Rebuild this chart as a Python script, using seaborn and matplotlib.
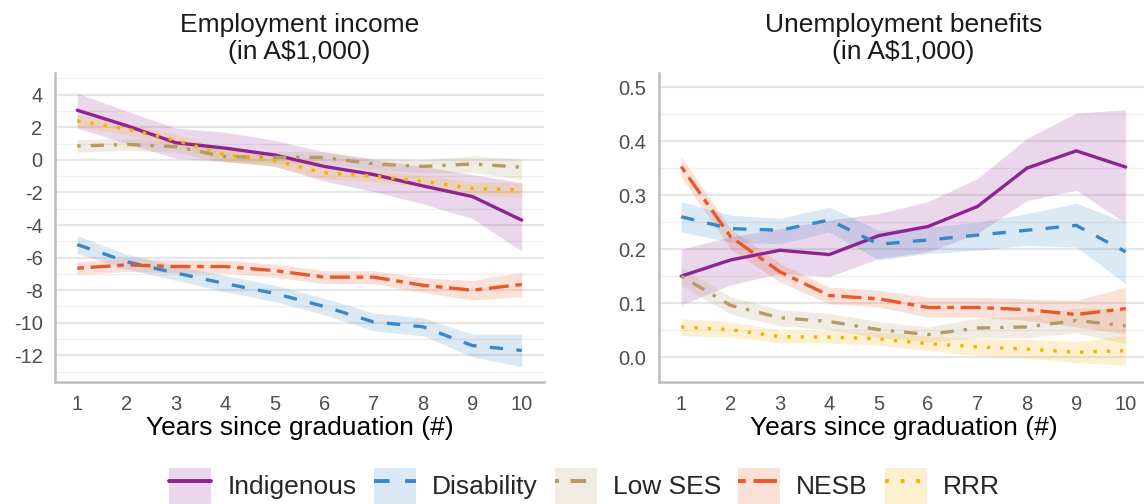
import numpy as np
import pandas as pd
import matplotlib
matplotlib.use("Agg")
import matplotlib.pyplot as plt
from matplotlib.patches import Patch
from matplotlib.lines import Line2D
from matplotlib.ticker import MultipleLocator, FormatStrFormatter
import seaborn as sns

## Data
years = [1, 2, 3, 4, 5, 6, 7, 8, 9, 10]
groups = ["Indigenous", "Disability", "Low SES", "NESB", "RRR"]

# Employment income (A$1,000): estimate, lower, upper
inc_indigenous = [3.05, 2.1, 1.05, 0.72, 0.3, -0.4, -0.9, -1.6, -2.25, -3.7]
inc_indigenous_lo = [1.95, 1.0, 0.1, -0.1, -0.4, -1.3, -1.95, -2.7, -3.6, -5.6]
inc_indigenous_hi = [4.1, 3.0, 1.95, 1.7, 1.2, 0.5, 0.0, -0.4, -0.9, -1.4]
inc_disability = [-5.2, -6.25, -6.95, -7.6, -8.2, -9.0, -9.95, -10.25, -11.4, -11.7]
inc_disability_lo = [-5.75, -6.7, -7.4, -8.1, -8.7, -9.5, -10.5, -10.8, -12.1, -12.7]
inc_disability_hi = [-4.65, -5.8, -6.5, -7.1, -7.7, -8.5, -9.4, -9.7, -10.7, -10.7]
inc_lowses = [0.85, 0.95, 0.8, 0.2, 0.15, 0.15, -0.25, -0.4, -0.25, -0.45]
inc_lowses_lo = [0.45, 0.6, 0.45, -0.15, -0.2, -0.2, -0.6, -0.8, -0.75, -1.2]
inc_lowses_hi = [1.25, 1.3, 1.15, 0.55, 0.5, 0.5, 0.1, 0.0, 0.25, 0.05]
inc_nesb = [-6.65, -6.45, -6.55, -6.55, -6.8, -7.2, -7.2, -7.7, -8.0, -7.65]
inc_nesb_lo = [-7.05, -6.85, -6.95, -6.95, -7.2, -7.6, -7.6, -8.15, -8.6, -8.4]
inc_nesb_hi = [-6.25, -6.05, -6.15, -6.15, -6.4, -6.8, -6.8, -7.25, -7.4, -6.9]
inc_rrr = [2.4, 1.9, 1.2, 0.3, -0.05, -0.8, -1.0, -1.3, -1.75, -1.85]
inc_rrr_lo = [2.05, 1.55, 0.85, -0.05, -0.4, -1.15, -1.35, -1.65, -2.15, -2.3]
inc_rrr_hi = [2.75, 2.25, 1.55, 0.65, 0.3, -0.45, -0.65, -0.95, -1.35, -1.4]

# Unemployment benefits (A$1,000): estimate, lower, upper
ben_indigenous = [0.15, 0.18, 0.198, 0.19, 0.225, 0.242, 0.279, 0.35, 0.382, 0.352]
ben_indigenous_lo = [0.097, 0.134, 0.155, 0.149, 0.183, 0.195, 0.229, 0.29, 0.309, 0.248]
ben_indigenous_hi = [0.2, 0.223, 0.238, 0.254, 0.266, 0.288, 0.331, 0.405, 0.452, 0.458]
ben_disability = [0.26, 0.238, 0.235, 0.254, 0.209, 0.217, 0.226, 0.235, 0.244, 0.195]
ben_disability_lo = [0.232, 0.213, 0.21, 0.232, 0.18, 0.192, 0.198, 0.207, 0.204, 0.136]
ben_disability_hi = [0.288, 0.263, 0.257, 0.278, 0.235, 0.241, 0.25, 0.266, 0.285, 0.25]
ben_lowses = [0.15, 0.096, 0.073, 0.066, 0.051, 0.042, 0.054, 0.056, 0.068, 0.058]
ben_lowses_lo = [0.133, 0.08, 0.058, 0.051, 0.036, 0.028, 0.036, 0.036, 0.045, 0.025]
ben_lowses_hi = [0.167, 0.112, 0.088, 0.081, 0.066, 0.056, 0.072, 0.076, 0.091, 0.09]
ben_nesb = [0.353, 0.223, 0.158, 0.114, 0.108, 0.092, 0.092, 0.088, 0.079, 0.09]
ben_nesb_lo = [0.334, 0.2, 0.139, 0.099, 0.093, 0.074, 0.074, 0.068, 0.056, 0.043]
ben_nesb_hi = [0.371, 0.238, 0.173, 0.13, 0.124, 0.111, 0.111, 0.108, 0.105, 0.13]
ben_rrr = [0.056, 0.051, 0.038, 0.037, 0.034, 0.025, 0.019, 0.015, 0.009, 0.012]
ben_rrr_lo = [0.04, 0.037, 0.027, 0.026, 0.022, 0.012, 0.003, -0.002, -0.01, -0.015]
ben_rrr_hi = [0.071, 0.066, 0.05, 0.049, 0.046, 0.039, 0.035, 0.033, 0.029, 0.04]

colors = ["#8E2491", "#3A87C8", "#B49A67", "#E9582A", "#F5B000"]
dashes = [(None, None), (4, 4), (1, 3, 4, 3), (2, 2, 6, 2), (1, 3)]


def long_frame(est, lo, hi):
    rows = []
    for g, e, l, h in zip(groups, est, lo, hi):
        for y, a, b, c in zip(years, e, l, h):
            rows.append({"year": y, "group": g, "value": a, "lower": b, "upper": c})
    return pd.DataFrame(rows)


income = long_frame(
    [inc_indigenous, inc_disability, inc_lowses, inc_nesb, inc_rrr],
    [inc_indigenous_lo, inc_disability_lo, inc_lowses_lo, inc_nesb_lo, inc_rrr_lo],
    [inc_indigenous_hi, inc_disability_hi, inc_lowses_hi, inc_nesb_hi, inc_rrr_hi],
)
benefits = long_frame(
    [ben_indigenous, ben_disability, ben_lowses, ben_nesb, ben_rrr],
    [ben_indigenous_lo, ben_disability_lo, ben_lowses_lo, ben_nesb_lo, ben_rrr_lo],
    [ben_indigenous_hi, ben_disability_hi, ben_lowses_hi, ben_nesb_hi, ben_rrr_hi],
)

## Style
sns.set_theme(style="white")
plt.rcParams["font.family"] = ["Liberation Sans", "DejaVu Sans"]
plt.rcParams["axes.unicode_minus"] = False

palette = dict(zip(groups, colors))
dash_map = {g: ("" if d[0] is None else d) for g, d in zip(groups, dashes)}

fig = plt.figure(figsize=(11.44, 5.04), dpi=100)
ax1 = fig.add_axes([0.0481, 0.242, 0.4274, 0.613])
ax2 = fig.add_axes([0.576, 0.242, 0.4274, 0.613])


def draw(ax, df, title, ylim, major, minor):
    for g in groups:
        sub = df[df["group"] == g]
        ax.fill_between(sub["year"], sub["lower"], sub["upper"],
                        color=palette[g], alpha=0.18, linewidth=0)
    sns.lineplot(data=df, x="year", y="value", hue="group", style="group",
                 hue_order=groups, style_order=groups, palette=palette,
                 dashes=dash_map, linewidth=2.4, ax=ax, legend=False)
    ax.set_xlim(0.55, 10.45)
    ax.set_ylim(*ylim)
    ax.set_xticks(years)
    ax.yaxis.set_major_locator(MultipleLocator(major))
    ax.yaxis.set_minor_locator(MultipleLocator(minor))
    ax.grid(axis="y", which="major", color="#E6E6E6", linewidth=1.6)
    ax.grid(axis="y", which="minor", color="#EFEFEF", linewidth=0.9)
    ax.grid(axis="x", visible=False)
    ax.set_axisbelow(True)
    for s in ["top", "right"]:
        ax.spines[s].set_visible(False)
    for s in ["left", "bottom"]:
        ax.spines[s].set_color("#BDBDBD")
        ax.spines[s].set_linewidth(1.8)
    ax.tick_params(axis="both", which="both", labelsize=14.5, colors="#4D4D4D",
                   length=0, pad=9)
    ax.set_title(title, fontsize=19, color="#1A1A1A", pad=10, linespacing=1.15)
    ax.set_xlabel("Years since graduation (#)", fontsize=19, color="black", labelpad=2)
    ax.set_ylabel("")


draw(ax1, income, "Employment income\n(in A\\$1,000)", (-13.64, 5.33), 2, 1)
draw(ax2, benefits, "Unemployment benefits\n(in A\\$1,000)", (-0.046, 0.526), 0.1, 0.05)
ax2.yaxis.set_major_formatter(FormatStrFormatter("%.1f"))

## Legend
handles = []
for g, c, d in zip(groups, colors, dashes):
    patch = Patch(facecolor=c, alpha=0.18, edgecolor="none")
    line = Line2D([], [], color=c, linewidth=2.8,
                  linestyle="-" if d[0] is None else (0, d))
    handles.append((patch, line))
fig.legend(handles, groups, loc="center", ncol=5, frameon=False,
           fontsize=19, bbox_to_anchor=(0.511, 0.036), handlelength=1.6,
           handleheight=1.75, columnspacing=0.65, handletextpad=0.6, borderpad=0)

fig.savefig("out.png", dpi=100)
